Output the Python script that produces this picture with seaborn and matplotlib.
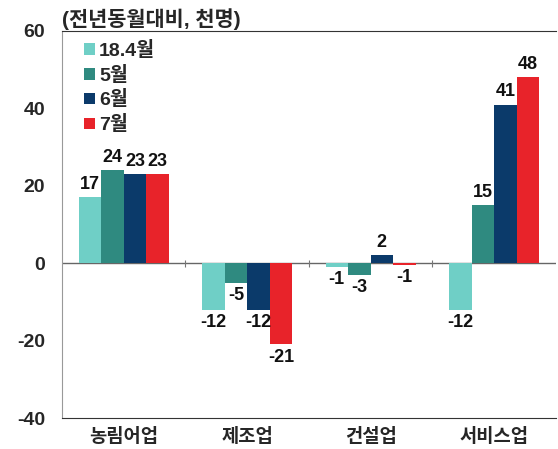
import numpy as np
import pandas as pd
import matplotlib
matplotlib.use("Agg")
import matplotlib.pyplot as plt
import seaborn as sns

industries = ["농림어업", "제조업", "건설업", "서비스업"]
months = ["18.4월", "5월", "6월", "7월"]
# values in thousands of persons, yoy change
val_apr = [17, -12, -1, -12]
val_may = [24, -5, -3, 15]
val_jun = [23, -12, 2, 41]
val_jul = [23, -21, -0.4, 48]
lab_apr = ["17", "-12", "-1", "-12"]
lab_may = ["24", "-5", "-3", "15"]
lab_jun = ["23", "-12", "2", "41"]
lab_jul = ["23", "-21", "-1", "48"]

_PALETTE = {
    "18.4월": "#6FCFC6",
    "5월": "#2F8A80",
    "6월": "#0B3A6A",
    "7월": "#E8232A",
}

sns.set_style("white")
plt.rcParams["font.family"] = ["Liberation Sans", "Noto Sans CJK KR", "DejaVu Sans"]
plt.rcParams["axes.unicode_minus"] = False

df = pd.DataFrame({
    "industry": industries * 4,
    "month": np.repeat(months, len(industries)),
    "value": val_apr + val_may + val_jun + val_jul,
})

fig = plt.figure(figsize=(5.58, 4.49), dpi=100)
ax = fig.add_axes([0.111, 0.069, 0.885, 0.862])

sns.barplot(
    data=df, x="industry", y="value", hue="month", order=industries,
    hue_order=months, palette=_PALETTE, width=0.73, ax=ax,
    saturation=1, errorbar=None, linewidth=0,
)

labels_by_month = [lab_apr, lab_may, lab_jun, lab_jul]
for cont, labs in zip(ax.containers, labels_by_month):
    ax.bar_label(cont, labels=labs, padding=3, fontsize=13,
                 fontweight="bold", color="#111111")

ax.set_ylim(-40, 60)
ax.set_yticks([-40, -20, 0, 20, 40, 60])
ax.set_yticklabels(["-40", "-20", "0", "20", "40", "60"])
ax.set_xlim(-0.5, 3.5)
ax.set_xlabel("")
ax.set_ylabel("")

ax.axhline(0, color="#666666", lw=1.0, zorder=0.5)
ax.vlines([0.5, 1.5, 2.5], -0.9, 0.9, color="#777777", lw=0.8)

ax.tick_params(axis="y", direction="in", length=3, color="#888888",
               labelsize=14, pad=12)
ax.tick_params(axis="x", length=0, labelsize=13.5, pad=7)
for lbl in ax.get_yticklabels() + ax.get_xticklabels():
    lbl.set_fontweight("bold")

ax.spines["right"].set_visible(False)
ax.spines["top"].set_color("#333333")
ax.spines["bottom"].set_color("#333333")
ax.spines["left"].set_color("#999999")

handles, labels = ax.get_legend_handles_labels()
ax.legend(
    handles, labels, loc="upper left", bbox_to_anchor=(0.01, 1.02),
    frameon=False, handlelength=0.55, handleheight=0.55, handletextpad=0.2,
    labelspacing=0.3, prop={"weight": "bold", "size": 14},
)

fig.text(0.112, 0.958, "(전년동월대비, 천명)", fontsize=15,
         fontweight="bold", ha="left", va="center")

fig.savefig("out.png", dpi=100)
